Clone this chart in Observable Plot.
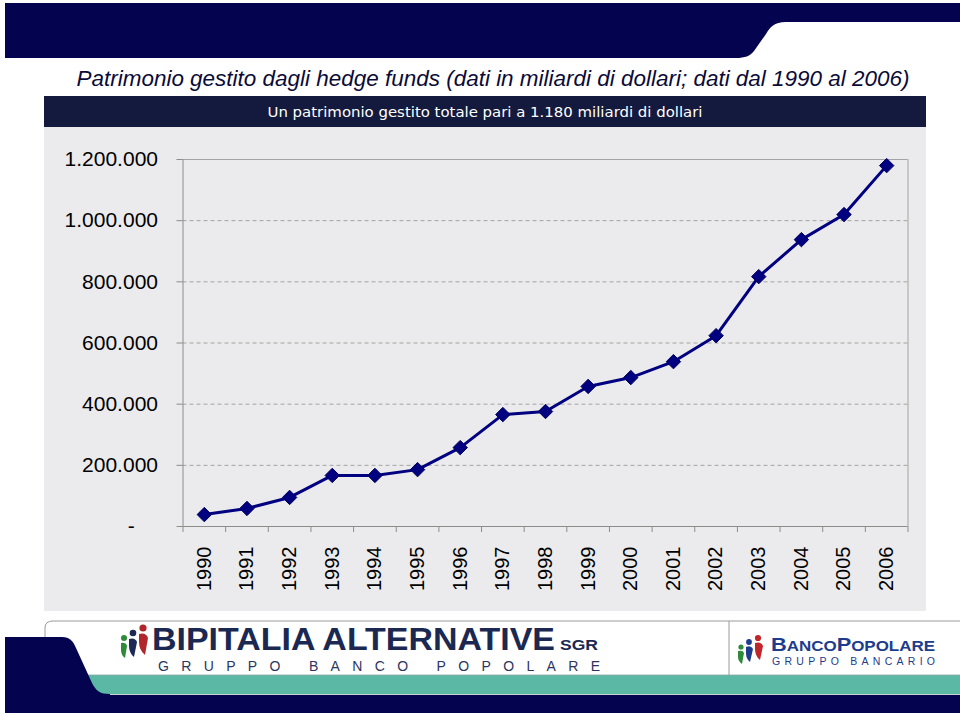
<!DOCTYPE html>
<html>
<head>
<meta charset="utf-8">
<script src="https://cdn.jsdelivr.net/npm/d3@7"></script>
<script src="https://cdn.jsdelivr.net/npm/@observablehq/plot@0.6"></script>
<style>
  html, body { margin: 0; padding: 0; background: #fff; }
  #page { position: relative; width: 960px; height: 716px; overflow: hidden; background: #fff; }
  #bg { position: absolute; left: 0; top: 0; }
  #chart { position: absolute; left: 44px; top: 127px; }
</style>
</head>
<body>
<div id="page">
<svg id="bg" width="960" height="716" xmlns="http://www.w3.org/2000/svg">
  <!-- top banner -->
  <path d="M5,3 L960,3 L960,22 L786,22 C774,22 770,27 766,34 L754,51 C750,56 745,58 736,58 L5,58 Z" fill="#03034f"/>
  <!-- title -->
  <text id="title" x="493" y="86" text-anchor="middle" font-family="Liberation Sans, Arial, sans-serif" font-style="italic" font-size="22" fill="#0b0b38" textLength="833" lengthAdjust="spacingAndGlyphs">Patrimonio gestito dagli hedge funds (dati in miliardi di dollari; dati dal 1990 al 2006)</text>
  <!-- subtitle banner -->
  <rect x="44" y="96" width="882" height="31" fill="#141a3d"/>
  <text id="subtitle" x="485" y="117" text-anchor="middle" font-family="DejaVu Sans Condensed, DejaVu Sans, sans-serif" font-stretch="condensed" font-size="14.5" fill="#ffffff" textLength="435" lengthAdjust="spacingAndGlyphs">Un patrimonio gestito totale pari a 1.180 miliardi di dollari</text>
  <!-- gray panel -->
  <rect x="44" y="127" width="882" height="484" fill="#ebebed"/>

  <!-- footer -->
  <path d="M45,676 L45,628 Q45,621 53,621 L960,621" fill="#ffffff" stroke="#9a9a9a" stroke-width="1"/>
  <line x1="729" y1="621" x2="729" y2="676" stroke="#9a9a9a" stroke-width="1"/>
  <rect x="80" y="675" width="880" height="19" fill="#5bb8a5"/>
  <line x1="80" y1="675" x2="960" y2="675" stroke="#8aa9a3" stroke-width="0.8"/>
  <path d="M5,637 L62,637 C70,637 73,641 76,648 L92,683 C96,691 100,694 110,694 L960,694 L960,713 L5,713 Z" fill="#03034f"/>
  <line x1="110" y1="694.5" x2="960" y2="694.5" stroke="#c8d4d2" stroke-width="1"/>

  <!-- left logo icon -->
  <g>
    <circle cx="124" cy="638" r="3" fill="#2e8b3a"/>
    <path d="M121,643 Q126,642 127,646 L125,658 Q121,655 121,650 Z" fill="#2e8b3a"/>
    <circle cx="133" cy="633" r="3.3" fill="#1d2a55"/>
    <path d="M129,639 Q135,637 137,642 L134,657 Q129,653 129,646 Z" fill="#1d2a55"/>
    <circle cx="143" cy="628" r="3.6" fill="#b0262a"/>
    <path d="M139,634 Q146,632 148,638 L145,655 Q139,650 139,642 Z" fill="#b0262a"/>
  </g>
  <text x="152" y="650" font-family="Liberation Sans, Arial, sans-serif" font-weight="bold" font-size="31" fill="#1b2852" textLength="403" lengthAdjust="spacingAndGlyphs">BIPITALIA ALTERNATIVE</text>
  <text x="560" y="650" font-family="Liberation Sans, Arial, sans-serif" font-weight="bold" font-size="15" fill="#1b2852" textLength="38" lengthAdjust="spacingAndGlyphs">SGR</text>
  <text x="158" y="670.5" font-family="Liberation Sans, Arial, sans-serif" font-size="14" fill="#2b3560" textLength="442" lengthAdjust="spacing">GRUPPO BANCO POPOLARE</text>

  <!-- right logo icon -->
  <g>
    <circle cx="741" cy="647" r="2.6" fill="#2e8b3a"/>
    <path d="M738,651 Q743,650 744,653 L742,664 Q738,661 738,657 Z" fill="#2e8b3a"/>
    <circle cx="749" cy="642" r="2.9" fill="#1d3c8c"/>
    <path d="M746,647 Q751,645 753,649 L750,662 Q746,659 746,653 Z" fill="#1d3c8c"/>
    <circle cx="758" cy="638" r="3.1" fill="#c0262a"/>
    <path d="M755,643 Q761,641 763,646 L760,660 Q755,656 755,649 Z" fill="#c0262a"/>
  </g>
  <text x="771" y="651" font-family="Liberation Sans, Arial, sans-serif" font-weight="bold" fill="#1d3c8c" textLength="164" lengthAdjust="spacingAndGlyphs"><tspan font-size="18">B</tspan><tspan font-size="14">ANCO</tspan><tspan font-size="18">P</tspan><tspan font-size="14">OPOLARE</tspan></text>
  <text x="772" y="665" font-family="Liberation Sans, Arial, sans-serif" font-size="10.5" fill="#1d3c8c" textLength="163" lengthAdjust="spacing">GRUPPO BANCARIO</text>
</svg>
<div id="chart"></div>
</div>
<script>
// ---- data ----
const years = [1990, 1991, 1992, 1993, 1994, 1995, 1996, 1997, 1998, 1999, 2000, 2001, 2002, 2003, 2004, 2005, 2006];
const values = [39000, 59000, 95000, 167000, 167000, 186000, 258000, 366000, 376000, 458000, 487000, 539000, 624000, 817000, 938000, 1020000, 1180000];
const yTicks = [0, 200000, 400000, 600000, 800000, 1000000, 1200000];

const data = years.map((year, i) => ({year, value: values[i]}));
const boundaries = [...years.map(y => y - 0.5), years[years.length - 1] + 0.5];

const itFormat = d3.formatLocale({decimal: ",", thousands: ".", grouping: [3], currency: ["€", ""]}).format(",d");
const fmtY = d => d === 0 ? "-\u2007\u2007" : itFormat(d);

const axisGray = "#8c8c8c";

const chart = Plot.plot({
  width: 882,
  height: 484,
  marginLeft: 138.5,
  marginRight: 18.5,
  marginTop: 32,
  marginBottom: 85,
  x: {domain: [1989.5, 2006.5], axis: null},
  y: {domain: [0, 1200000], axis: null},
  style: {background: "transparent", fontFamily: "Liberation Sans, Arial, sans-serif", overflow: "visible"},
  marks: [
    Plot.ruleY(yTicks.filter(d => d > 0 && d < 1200000), {stroke: "#a3a3a3", strokeDasharray: "4,3", strokeWidth: 1}),
    Plot.ruleY([1200000], {stroke: "#a3a3a3", strokeWidth: 1}),
    Plot.ruleX([2006.5], {stroke: "#a3a3a3", strokeWidth: 1}),
    Plot.axisY({ticks: yTicks, tickSize: 6, tickPadding: 19, tickFormat: fmtY, fontSize: 21, stroke: axisGray, fill: "black", anchor: "left", label: null}),
    Plot.axisX({ticks: boundaries, tickSize: 6, tickPadding: 0, tickFormat: () => "", stroke: axisGray, anchor: "bottom", label: null}),
    Plot.axisX({ticks: years, tickSize: 0, tickPadding: 20, tickRotate: -90, tickFormat: d => String(d), fontSize: 20, fill: "black", anchor: "bottom", label: null}),
    Plot.ruleY([0], {stroke: axisGray, strokeWidth: 1}),
    Plot.ruleX([1989.5], {stroke: axisGray, strokeWidth: 1}),
    Plot.line(data, {x: "year", y: "value", stroke: "#000080", strokeWidth: 3}),
    Plot.dot(data, {x: "year", y: "value", symbol: "diamond2", r: 6.5, fill: "#000080", stroke: "#00005c", strokeWidth: 1})
  ]
});
document.getElementById("chart").appendChild(chart);
</script>
</body>
</html>
